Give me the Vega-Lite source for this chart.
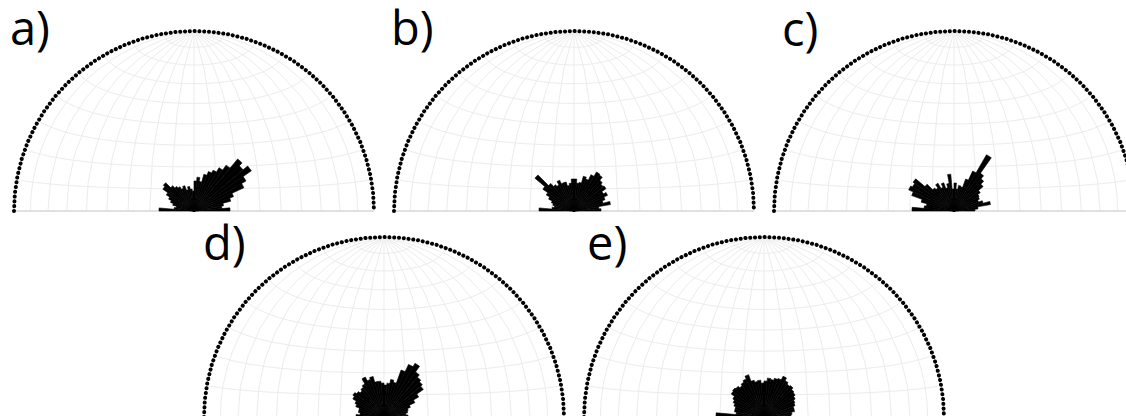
{
"$schema":"https://vega.github.io/schema/vega-lite/v6.json",
"background":"white",
"padding":{"left":6,"top":7,"right":0,"bottom":0},
"config":{"view":{"stroke":"#f3f3f3"},"title":{"font":"Open Sans","fontSize":47,"fontWeight":"normal","color":"#000","anchor":"start","frame":"group","orient":"top","baseline":"alphabetic"}},
"datasets":{
"rose":[
{"p":"a","a0":-90,"a1":-85,"n":35},{"p":"a","a0":-85,"a1":-80,"n":20},{"p":"a","a0":-80,"a1":-75,"n":18},{"p":"a","a0":-75,"a1":-70,"n":22},{"p":"a","a0":-70,"a1":-65,"n":25},{"p":"a","a0":-65,"a1":-60,"n":28},{"p":"a","a0":-60,"a1":-55,"n":32},{"p":"a","a0":-55,"a1":-50,"n":38},{"p":"a","a0":-50,"a1":-45,"n":40},{"p":"a","a0":-45,"a1":-40,"n":33},{"p":"a","a0":-40,"a1":-35,"n":30},{"p":"a","a0":-35,"a1":-30,"n":28},{"p":"a","a0":-30,"a1":-25,"n":25},{"p":"a","a0":-25,"a1":-20,"n":27},{"p":"a","a0":-20,"a1":-15,"n":22},{"p":"a","a0":-15,"a1":-10,"n":25},{"p":"a","a0":-10,"a1":-5,"n":22},{"p":"a","a0":-5,"a1":0,"n":20},{"p":"a","a0":0,"a1":5,"n":30},{"p":"a","a0":5,"a1":10,"n":34},{"p":"a","a0":10,"a1":15,"n":30},{"p":"a","a0":15,"a1":20,"n":38},{"p":"a","a0":20,"a1":25,"n":42},{"p":"a","a0":25,"a1":30,"n":45},{"p":"a","a0":30,"a1":35,"n":50},{"p":"a","a0":35,"a1":40,"n":56},{"p":"a","a0":40,"a1":45,"n":68},{"p":"a","a0":45,"a1":50,"n":64},{"p":"a","a0":50,"a1":55,"n":70},{"p":"a","a0":55,"a1":60,"n":60},{"p":"a","a0":60,"a1":65,"n":55},{"p":"a","a0":65,"a1":70,"n":42},{"p":"a","a0":70,"a1":75,"n":38},{"p":"a","a0":75,"a1":80,"n":30},{"p":"a","a0":80,"a1":85,"n":28},{"p":"a","a0":85,"a1":90,"n":36},
{"p":"b","a0":-90,"a1":-85,"n":35},{"p":"b","a0":-85,"a1":-80,"n":22},{"p":"b","a0":-80,"a1":-75,"n":20},{"p":"b","a0":-75,"a1":-70,"n":22},{"p":"b","a0":-70,"a1":-65,"n":24},{"p":"b","a0":-65,"a1":-60,"n":28},{"p":"b","a0":-60,"a1":-55,"n":32},{"p":"b","a0":-55,"a1":-50,"n":38},{"p":"b","a0":-50,"a1":-45,"n":51},{"p":"b","a0":-45,"a1":-40,"n":36},{"p":"b","a0":-40,"a1":-35,"n":32},{"p":"b","a0":-35,"a1":-30,"n":30},{"p":"b","a0":-30,"a1":-25,"n":34},{"p":"b","a0":-25,"a1":-20,"n":30},{"p":"b","a0":-20,"a1":-15,"n":30},{"p":"b","a0":-15,"a1":-10,"n":26},{"p":"b","a0":-10,"a1":-5,"n":28},{"p":"b","a0":-5,"a1":0,"n":32},{"p":"b","a0":0,"a1":5,"n":32},{"p":"b","a0":5,"a1":10,"n":28},{"p":"b","a0":10,"a1":15,"n":29},{"p":"b","a0":15,"a1":20,"n":36},{"p":"b","a0":20,"a1":25,"n":34},{"p":"b","a0":25,"a1":30,"n":40},{"p":"b","a0":30,"a1":35,"n":45},{"p":"b","a0":35,"a1":40,"n":44},{"p":"b","a0":40,"a1":45,"n":40},{"p":"b","a0":45,"a1":50,"n":38},{"p":"b","a0":50,"a1":55,"n":39},{"p":"b","a0":55,"a1":60,"n":34},{"p":"b","a0":60,"a1":65,"n":37},{"p":"b","a0":65,"a1":70,"n":33},{"p":"b","a0":70,"a1":75,"n":30},{"p":"b","a0":75,"a1":80,"n":37},{"p":"b","a0":80,"a1":85,"n":25},{"p":"b","a0":85,"a1":90,"n":27},
{"p":"c","a0":-90,"a1":-85,"n":42},{"p":"c","a0":-85,"a1":-80,"n":30},{"p":"c","a0":-80,"a1":-75,"n":28},{"p":"c","a0":-75,"a1":-70,"n":34},{"p":"c","a0":-70,"a1":-65,"n":45},{"p":"c","a0":-65,"a1":-60,"n":50},{"p":"c","a0":-60,"a1":-55,"n":48},{"p":"c","a0":-55,"a1":-50,"n":50},{"p":"c","a0":-50,"a1":-45,"n":38},{"p":"c","a0":-45,"a1":-40,"n":30},{"p":"c","a0":-40,"a1":-35,"n":28},{"p":"c","a0":-35,"a1":-30,"n":32},{"p":"c","a0":-30,"a1":-25,"n":26},{"p":"c","a0":-25,"a1":-20,"n":30},{"p":"c","a0":-20,"a1":-15,"n":24},{"p":"c","a0":-15,"a1":-10,"n":28},{"p":"c","a0":-10,"a1":-5,"n":37},{"p":"c","a0":-5,"a1":0,"n":22},{"p":"c","a0":0,"a1":5,"n":28},{"p":"c","a0":5,"a1":10,"n":22},{"p":"c","a0":10,"a1":15,"n":26},{"p":"c","a0":15,"a1":20,"n":25},{"p":"c","a0":20,"a1":25,"n":34},{"p":"c","a0":25,"a1":30,"n":44},{"p":"c","a0":30,"a1":35,"n":65},{"p":"c","a0":35,"a1":40,"n":46},{"p":"c","a0":40,"a1":45,"n":42},{"p":"c","a0":45,"a1":50,"n":38},{"p":"c","a0":50,"a1":55,"n":32},{"p":"c","a0":55,"a1":60,"n":29},{"p":"c","a0":60,"a1":65,"n":28},{"p":"c","a0":65,"a1":70,"n":26},{"p":"c","a0":70,"a1":75,"n":30},{"p":"c","a0":75,"a1":80,"n":37},{"p":"c","a0":80,"a1":85,"n":24},{"p":"c","a0":85,"a1":90,"n":21},
{"p":"d","a0":-90,"a1":-85,"n":28},{"p":"d","a0":-85,"a1":-80,"n":24},{"p":"d","a0":-80,"a1":-75,"n":26},{"p":"d","a0":-75,"a1":-70,"n":26},{"p":"d","a0":-70,"a1":-65,"n":30},{"p":"d","a0":-65,"a1":-60,"n":32},{"p":"d","a0":-60,"a1":-55,"n":36},{"p":"d","a0":-55,"a1":-50,"n":38},{"p":"d","a0":-50,"a1":-45,"n":36},{"p":"d","a0":-45,"a1":-40,"n":34},{"p":"d","a0":-40,"a1":-35,"n":36},{"p":"d","a0":-35,"a1":-30,"n":38},{"p":"d","a0":-30,"a1":-25,"n":44},{"p":"d","a0":-25,"a1":-20,"n":40},{"p":"d","a0":-20,"a1":-15,"n":42},{"p":"d","a0":-15,"a1":-10,"n":36},{"p":"d","a0":-10,"a1":-5,"n":36},{"p":"d","a0":-5,"a1":0,"n":34},{"p":"d","a0":0,"a1":5,"n":32},{"p":"d","a0":5,"a1":10,"n":34},{"p":"d","a0":10,"a1":15,"n":38},{"p":"d","a0":15,"a1":20,"n":36},{"p":"d","a0":20,"a1":25,"n":50},{"p":"d","a0":25,"a1":30,"n":58},{"p":"d","a0":30,"a1":35,"n":62},{"p":"d","a0":35,"a1":40,"n":55},{"p":"d","a0":40,"a1":45,"n":52},{"p":"d","a0":45,"a1":50,"n":50},{"p":"d","a0":50,"a1":55,"n":48},{"p":"d","a0":55,"a1":60,"n":40},{"p":"d","a0":60,"a1":65,"n":34},{"p":"d","a0":65,"a1":70,"n":28},{"p":"d","a0":70,"a1":75,"n":25},{"p":"d","a0":75,"a1":80,"n":24},{"p":"d","a0":80,"a1":85,"n":22},{"p":"d","a0":85,"a1":90,"n":24},
{"p":"e","a0":-90,"a1":-85,"n":48},{"p":"e","a0":-85,"a1":-80,"n":28},{"p":"e","a0":-80,"a1":-75,"n":30},{"p":"e","a0":-75,"a1":-70,"n":30},{"p":"e","a0":-70,"a1":-65,"n":32},{"p":"e","a0":-65,"a1":-60,"n":34},{"p":"e","a0":-60,"a1":-55,"n":36},{"p":"e","a0":-55,"a1":-50,"n":40},{"p":"e","a0":-50,"a1":-45,"n":41},{"p":"e","a0":-45,"a1":-40,"n":40},{"p":"e","a0":-40,"a1":-35,"n":38},{"p":"e","a0":-35,"a1":-30,"n":40},{"p":"e","a0":-30,"a1":-25,"n":42},{"p":"e","a0":-25,"a1":-20,"n":45},{"p":"e","a0":-20,"a1":-15,"n":38},{"p":"e","a0":-15,"a1":-10,"n":36},{"p":"e","a0":-10,"a1":-5,"n":37},{"p":"e","a0":-5,"a1":0,"n":34},{"p":"e","a0":0,"a1":5,"n":36},{"p":"e","a0":5,"a1":10,"n":39},{"p":"e","a0":10,"a1":15,"n":38},{"p":"e","a0":15,"a1":20,"n":40},{"p":"e","a0":20,"a1":25,"n":41},{"p":"e","a0":25,"a1":30,"n":45},{"p":"e","a0":30,"a1":35,"n":42},{"p":"e","a0":35,"a1":40,"n":40},{"p":"e","a0":40,"a1":45,"n":41},{"p":"e","a0":45,"a1":50,"n":39},{"p":"e","a0":50,"a1":55,"n":38},{"p":"e","a0":55,"a1":60,"n":36},{"p":"e","a0":60,"a1":65,"n":34},{"p":"e","a0":65,"a1":70,"n":33},{"p":"e","a0":70,"a1":75,"n":31},{"p":"e","a0":75,"a1":80,"n":31},{"p":"e","a0":80,"a1":85,"n":28},{"p":"e","a0":85,"a1":90,"n":27}
],
"equator":[{"type":"Feature","properties":{},"geometry":{"type":"LineString","coordinates":[[-90,0],[0,0],[90,0]]}}],
"rim":[{"type":"Feature","properties":{},"geometry":{"type":"LineString","coordinates":[[-90,0],[-90,45],[0,90],[90,45],[90,0]]}}]
},
"center":true,
"spacing":3,
"vconcat":[
{"bounds":"flush","spacing":20,"hconcat":[
{"width":360,"height":180,"title":{"text":"a)","offset":-32,"dx":-4},"projection":{"type":"azimuthalEqualArea"},"layer":[
{"data":{"graticule":{"extent":[[-90,0],[90.001,90]],"step":[10,10]}},"mark":{"type":"geoshape","filled":false,"stroke":"#ececec","strokeWidth":1}},
{"data":{"name":"equator"},"mark":{"type":"geoshape","filled":false,"stroke":"#e0e0e0","strokeWidth":2}},
{"data":{"name":"rose"},"transform":[{"filter":"datum.p==='a'"}],"mark":{"type":"arc","fill":"#000","stroke":"#000","strokeWidth":0.6},"encoding":{"longitude":{"datum":0},"latitude":{"datum":0},"theta":{"field":"a0","type":"quantitative","scale":{"domain":[-180,180],"range":[-3.14159265,3.14159265]}},"theta2":{"field":"a1"},"radius":{"field":"n","type":"quantitative","scale":{"type":"linear","zero":true,"domain":[0,180],"range":[0,180]}}}},
{"data":{"name":"rim"},"mark":{"type":"geoshape","filled":false,"stroke":"#000","strokeWidth":4,"strokeDash":[0.1,4.7],"strokeCap":"round"}}
]},
{"width":360,"height":180,"title":{"text":"b)","offset":-32,"dx":-3},"projection":{"type":"azimuthalEqualArea"},"layer":[
{"data":{"graticule":{"extent":[[-90,0],[90.001,90]],"step":[10,10]}},"mark":{"type":"geoshape","filled":false,"stroke":"#ececec","strokeWidth":1}},
{"data":{"name":"equator"},"mark":{"type":"geoshape","filled":false,"stroke":"#e0e0e0","strokeWidth":2}},
{"data":{"name":"rose"},"transform":[{"filter":"datum.p==='b'"}],"mark":{"type":"arc","fill":"#000","stroke":"#000","strokeWidth":0.6},"encoding":{"longitude":{"datum":0},"latitude":{"datum":0},"theta":{"field":"a0","type":"quantitative","scale":{"domain":[-180,180],"range":[-3.14159265,3.14159265]}},"theta2":{"field":"a1"},"radius":{"field":"n","type":"quantitative","scale":{"type":"linear","zero":true,"domain":[0,180],"range":[0,180]}}}},
{"data":{"name":"rim"},"mark":{"type":"geoshape","filled":false,"stroke":"#000","strokeWidth":4,"strokeDash":[0.1,4.7],"strokeCap":"round"}}
]},
{"width":360,"height":180,"title":{"text":"c)","offset":-33,"dx":8},"projection":{"type":"azimuthalEqualArea"},"layer":[
{"data":{"graticule":{"extent":[[-90,0],[90.001,90]],"step":[10,10]}},"mark":{"type":"geoshape","filled":false,"stroke":"#ececec","strokeWidth":1}},
{"data":{"name":"equator"},"mark":{"type":"geoshape","filled":false,"stroke":"#e0e0e0","strokeWidth":2}},
{"data":{"name":"rose"},"transform":[{"filter":"datum.p==='c'"}],"mark":{"type":"arc","fill":"#000","stroke":"#000","strokeWidth":0.6},"encoding":{"longitude":{"datum":0},"latitude":{"datum":0},"theta":{"field":"a0","type":"quantitative","scale":{"domain":[-180,180],"range":[-3.14159265,3.14159265]}},"theta2":{"field":"a1"},"radius":{"field":"n","type":"quantitative","scale":{"type":"linear","zero":true,"domain":[0,180],"range":[0,180]}}}},
{"data":{"name":"rim"},"mark":{"type":"geoshape","filled":false,"stroke":"#000","strokeWidth":4,"strokeDash":[0.1,4.7],"strokeCap":"round"}}
]}
]},
{"bounds":"flush","spacing":20,"hconcat":[
{"width":360,"height":180,"title":{"text":"d)","offset":-41,"dx":-1},"projection":{"type":"azimuthalEqualArea"},"layer":[
{"data":{"graticule":{"extent":[[-90,0],[90.001,90]],"step":[10,10]}},"mark":{"type":"geoshape","filled":false,"stroke":"#ececec","strokeWidth":1}},
{"data":{"name":"equator"},"mark":{"type":"geoshape","filled":false,"stroke":"#e0e0e0","strokeWidth":2}},
{"data":{"name":"rose"},"transform":[{"filter":"datum.p==='d'"}],"mark":{"type":"arc","fill":"#000","stroke":"#000","strokeWidth":0.6},"encoding":{"longitude":{"datum":0},"latitude":{"datum":0},"theta":{"field":"a0","type":"quantitative","scale":{"domain":[-180,180],"range":[-3.14159265,3.14159265]}},"theta2":{"field":"a1"},"radius":{"field":"n","type":"quantitative","scale":{"type":"linear","zero":true,"domain":[0,180],"range":[0,180]}}}},
{"data":{"name":"rim"},"mark":{"type":"geoshape","filled":false,"stroke":"#000","strokeWidth":4,"strokeDash":[0.1,4.7],"strokeCap":"round"}}
]},
{"width":360,"height":180,"title":{"text":"e)","offset":-41,"dx":3},"projection":{"type":"azimuthalEqualArea"},"layer":[
{"data":{"graticule":{"extent":[[-90,0],[90.001,90]],"step":[10,10]}},"mark":{"type":"geoshape","filled":false,"stroke":"#ececec","strokeWidth":1}},
{"data":{"name":"equator"},"mark":{"type":"geoshape","filled":false,"stroke":"#e0e0e0","strokeWidth":2}},
{"data":{"name":"rose"},"transform":[{"filter":"datum.p==='e'"}],"mark":{"type":"arc","fill":"#000","stroke":"#000","strokeWidth":0.6},"encoding":{"longitude":{"datum":0},"latitude":{"datum":0},"theta":{"field":"a0","type":"quantitative","scale":{"domain":[-180,180],"range":[-3.14159265,3.14159265]}},"theta2":{"field":"a1"},"radius":{"field":"n","type":"quantitative","scale":{"type":"linear","zero":true,"domain":[0,180],"range":[0,180]}}}},
{"data":{"name":"rim"},"mark":{"type":"geoshape","filled":false,"stroke":"#000","strokeWidth":4,"strokeDash":[0.1,4.7],"strokeCap":"round"}}
]}
]}
]
}
